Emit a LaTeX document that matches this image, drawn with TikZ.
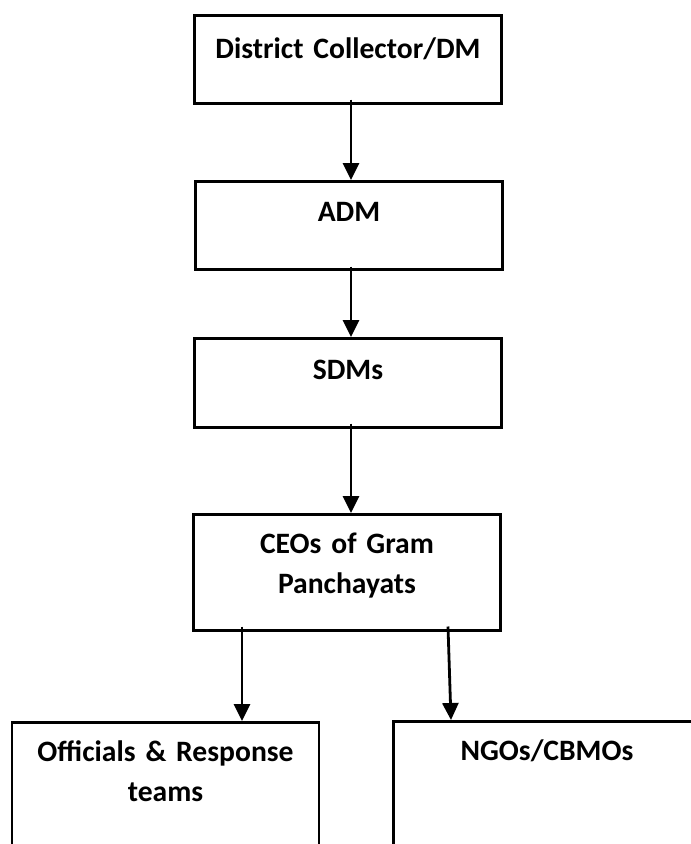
\documentclass[tikz,border=0pt]{standalone}
\usepackage{fontspec}
\setmainfont{Carlito}
\usetikzlibrary{arrows.meta}
\begin{document}
\begin{tikzpicture}[x=1pt, y=-1pt,
    box/.style={draw, line width=2.5pt, inner sep=0pt, anchor=north, align=center,
      text width=307pt, text height=40pt,
      font=\fontsize{29.6}{40}\selectfont\bfseries},
    arr/.style={line width=2.8pt, -{Triangle[length=17pt, width=16pt]}}]
        \clip (0,0) rectangle (691,844);
        \node[box, text height=43pt, text depth=45pt] (dm) at (348,14) {District Collector/DM};
        \node[box, text depth=48pt] (adm) at (349,180) {ADM};
        \node[box, text height=41pt, text depth=48pt] (sdm) at (348,337) {SDMs};
        \node[box, text height=39pt, text depth=77pt] (ceo) at (347,513) {CEOs of Gram\\Panchayats};
        \node[box, text height=39pt, text depth=160pt] (off) at (165.5,721) {Officials \& Response\\teams};
        \node[box, text height=39pt, text depth=160pt] (ngo) at (547,720) {NGOs/CBMOs};
        \draw[arr] ([xshift=3pt, yshift=5pt]dm.south) -- ([xshift=2pt]adm.north);
        \draw[arr] ([xshift=2pt, yshift=4pt]adm.south) -- ([xshift=3pt]sdm.north);
        \draw[arr] ([xshift=3pt, yshift=5pt]sdm.south) -- ([xshift=4pt]ceo.north);
        \draw[arr] ([xshift=-105pt, yshift=5pt]ceo.south) -- ([xshift=76.5pt]off.north);
        \draw[arr] ([xshift=101pt, yshift=5pt]ceo.south) -- ([xshift=-96pt]ngo.north);
      \end{tikzpicture}
\end{document}
